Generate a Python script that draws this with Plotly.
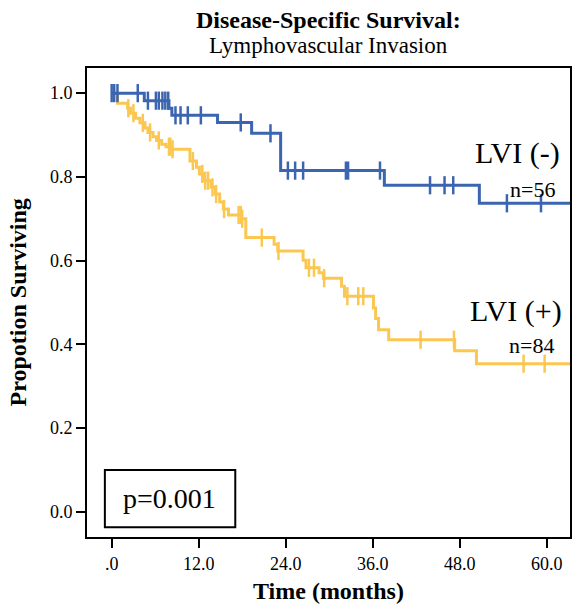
import plotly.graph_objects as go
import bisect

# ---------------- data ----------------
# LVI (-) : event times (months) and survival after each event
neg_times = [4.5, 7.9, 8.3, 14.6, 19.3, 23.3, 37.6, 50.7]
neg_surv = [0.982, 0.964, 0.947, 0.930, 0.904, 0.815, 0.780, 0.737]
neg_censor = [0.0, 0.35, 0.8, 3.6, 5.0, 6.1, 6.5, 7.0, 7.4, 7.8, 8.8, 9.5,
              10.5, 12.3, 17.8, 21.9, 24.3, 25.3, 26.4, 32.3, 32.6, 37.0,
              43.9, 45.9, 47.1, 54.5, 59.2]
neg_end = 64.0

# LVI (+)
pos_times = [0.8, 2.2, 2.6, 3.3, 3.9, 4.6, 5.0, 5.7, 6.2, 6.9, 7.5, 8.3,
             10.8, 11.7, 12.1, 12.8, 13.7, 14.3, 14.9, 15.4, 16.1, 17.9, 18.5,
             22.4, 22.9, 26.4, 26.8, 28.6, 29.2, 31.7, 32.1, 36.1, 36.4, 36.8,
             38.2, 47.3, 50.3]
pos_surv = [0.976, 0.964, 0.952, 0.940, 0.929, 0.917, 0.906, 0.896, 0.887,
            0.878, 0.872, 0.866, 0.838, 0.823, 0.807, 0.791, 0.775, 0.759,
            0.740, 0.723, 0.709, 0.700, 0.655, 0.639, 0.623, 0.601, 0.583,
            0.571, 0.558, 0.539, 0.515, 0.487, 0.462, 0.435, 0.411, 0.385,
            0.354]
pos_censor = [2.3, 3.0, 4.3, 5.3, 6.5, 7.9, 8.1, 8.4, 11.2, 12.5, 12.9, 13.3,
              13.9, 14.4, 15.5, 17.5, 17.8, 18.0, 20.7, 23.0, 27.2, 27.9, 29.3,
              32.5, 34.0, 34.7, 42.6, 47.2, 56.8, 59.7]
pos_end = 64.0

x_tickvals = [0, 12, 24, 36, 48, 60]
x_ticktext = [".0", "12.0", "24.0", "36.0", "48.0", "60.0"]
y_tickvals = [0.0, 0.2, 0.4, 0.6, 0.8, 1.0]
y_ticktext = ["0.0", "0.2", "0.4", "0.6", "0.8", "1.0"]

BLUE = "#3B65B0"
GOLD = "#FCC751"
FONT = "Liberation Serif"


def km_path(times, surv, end):
    return [0.0] + times + [end], [1.0] + surv + [surv[-1]]


def surv_at(times, surv, t):
    i = bisect.bisect_right(times, t)
    return 1.0 if i == 0 else surv[i - 1]


fig = go.Figure()
for times, surv, cens, end, col in [
    (pos_times, pos_surv, pos_censor, pos_end, GOLD),
    (neg_times, neg_surv, neg_censor, neg_end, BLUE),
]:
    xs, ys = km_path(times, surv, end)
    fig.add_trace(go.Scatter(x=xs, y=ys, mode="lines", line=dict(color=col, width=3, shape="hv"),
                             showlegend=False, hoverinfo="skip"))
    fig.add_trace(go.Scatter(x=cens, y=[surv_at(times, surv, c) for c in cens], mode="markers",
                             marker=dict(symbol="line-ns", size=13, line=dict(color=col, width=2.5)),
                             showlegend=False, hoverinfo="skip"))

axis_common = dict(ticks="outside", ticklen=9, tickwidth=2, tickcolor="black",
                   showgrid=False, zeroline=False, showline=True, linecolor="black",
                   linewidth=2, mirror=True, tickfont=dict(size=18, family=FONT, color="black"))

fig.update_layout(
    width=576, height=607,
    margin=dict(l=87, r=4, t=68, b=70),
    paper_bgcolor="white", plot_bgcolor="white",
    font=dict(family=FONT, color="black"),
    xaxis=dict(range=[-3.4, 63.2], tickvals=x_tickvals, ticktext=x_ticktext, **axis_common),
    yaxis=dict(range=[-0.06, 1.06], tickvals=y_tickvals, ticktext=y_ticktext, **axis_common),
    annotations=[
        dict(text="<b>Disease-Specific Survival:</b>", xref="paper", yref="paper", x=0.5, y=1.0,
             yshift=48, showarrow=False, font=dict(size=24, family=FONT), yanchor="middle"),
        dict(text="Lymphovascular Invasion", xref="paper", yref="paper", x=0.5, y=1.0,
             yshift=23, showarrow=False, font=dict(size=23, family=FONT), yanchor="middle"),
        dict(text="<b>Time (months)</b>", xref="paper", yref="paper", x=0.501, y=-0.115,
             showarrow=False, font=dict(size=24, family=FONT), yanchor="middle"),
        dict(text="<b>Propotion Surviving</b>", xref="paper", yref="paper", x=-0.142, y=0.501,
             textangle=-90, showarrow=False, font=dict(size=24, family=FONT),
             xanchor="center", yanchor="middle"),
        dict(text="LVI (-)", xref="paper", yref="paper", x=0.891, y=0.819, showarrow=False,
             font=dict(size=30, family=FONT), xanchor="center", yanchor="middle"),
        dict(text="n=56", xref="paper", yref="paper", x=0.922, y=0.740, showarrow=False,
             font=dict(size=22, family=FONT), xanchor="center", yanchor="middle"),
        dict(text="LVI (+)", xref="paper", yref="paper", x=0.889, y=0.482, showarrow=False,
             font=dict(size=30, family=FONT), xanchor="center", yanchor="middle"),
        dict(text="n=84", xref="paper", yref="paper", x=0.920, y=0.409, showarrow=False,
             font=dict(size=22, family=FONT), xanchor="center", yanchor="middle"),
        dict(text="p=0.001", xref="paper", yref="paper", x=0.171, y=0.083, showarrow=False,
             font=dict(size=28, family=FONT), xanchor="center", yanchor="middle"),
    ],
    shapes=[
        dict(type="rect", xref="paper", yref="paper", x0=0.037, x1=0.307, y0=0.021, y1=0.143,
             line=dict(color="black", width=2), fillcolor="rgba(0,0,0,0)"),
    ],
)

fig.write_html("out.html", config={"displayModeBar": False},
               post_script="document.body.style.margin='0px';")
